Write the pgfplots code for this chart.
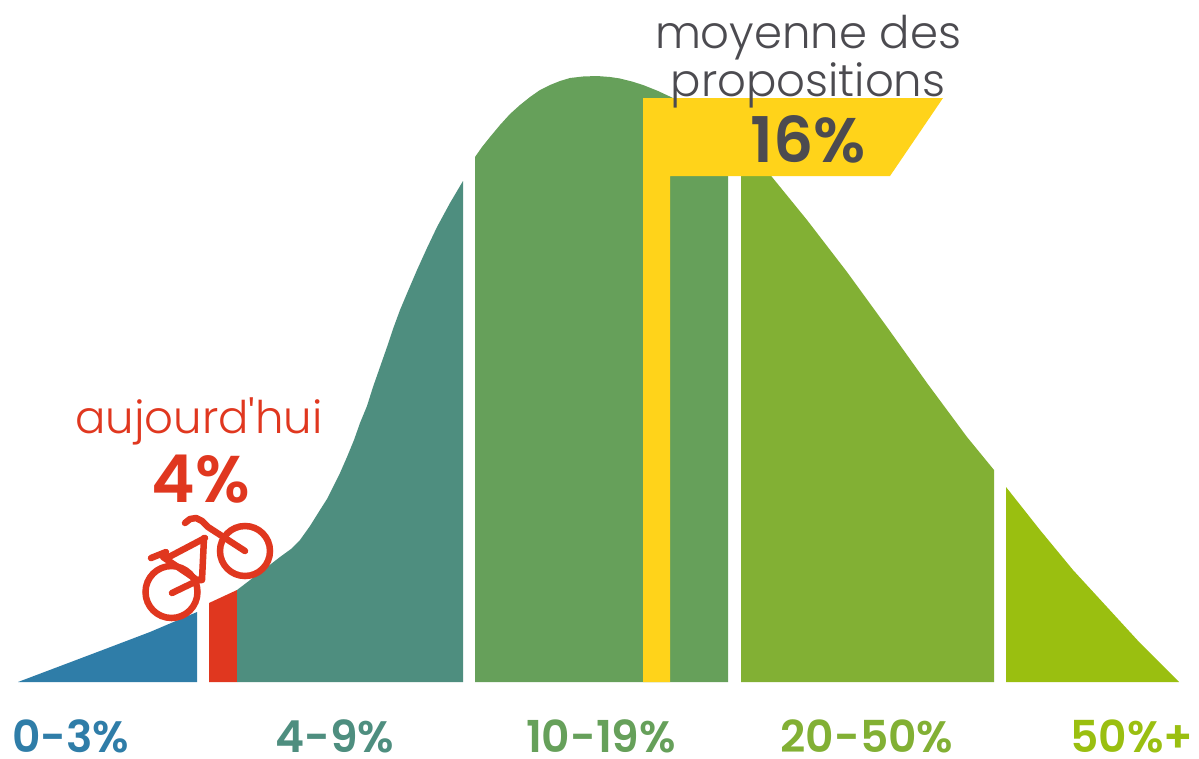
\documentclass[border=0pt]{standalone}
\usepackage{pgfplots}
\pgfplotsset{compat=1.18}
\usepackage{fontspec}
\setmainfont{Poppins}
\newfontfamily\lightf{Poppins Light}
\newfontfamily\semif{Poppins SemiBold}
\definecolor{cblue}{HTML}{2F7DA8}
\definecolor{cred}{HTML}{E0371F}
\definecolor{cteal}{HTML}{4E8E7F}
\definecolor{cgreen}{HTML}{66A05A}
\definecolor{colive}{HTML}{82B034}
\definecolor{clime}{HTML}{9ABF10}
\definecolor{cyel}{HTML}{FFD31A}
\definecolor{cdark}{HTML}{4C4B50}
\tikzset{bk/.style={cred,line width=6.5pt,line cap=round,line join=round},
  lb/.style={anchor=base,inner sep=0pt}}
\begin{document}
\begin{tikzpicture}[x=1pt,y=1pt]
\begin{axis}[hide axis,scale only axis,width=1199pt,height=758pt,xmin=0,xmax=1199,ymin=0,ymax=758,y dir=reverse,clip=false]
\fill[white] (axis cs:0,0) rectangle (axis cs:1199,758);
\addplot[fill=cblue,draw=none] coordinates {(18,682)(100,651)(150,632)(197,612)(197,682)} -- cycle;
\addplot[fill=cred,draw=none] coordinates {(209,603)(237,590)(237,682)(209,682)} -- cycle;
\addplot[fill=cteal,draw=none] coordinates {(237,590)(258,574)(280,557)(291,549)(300,540)(310,526)(320,510)(327,499)(333,487)(340,473)(347,457)(354,440)(360,423)(367,406)(373,387)(380,367)(387,347)(393,329)(400,310)(408,291)(417,270)(427,248)(437,227)(450,203)(463,181)(463,682)(237,682)} -- cycle;
\addplot[fill=cgreen,draw=none] coordinates {(475,157)(482,147)(490,137)(500,125)(510,114)(520,105)(530,97)(540,90)(550,85)(560,81)(570,78)(583,76.5)(597,76)(610,77)(620,78.5)(632,81.5)(643,85)(658,91)(673,98)(690,112)(710,130)(728,148)(728,682)(475,682)} -- cycle;
\addplot[fill=colive,draw=none] coordinates {(741,142)(772,177)(807,220)(847,272)(887,327)(927,383)(967,437)(994,470)(994,682)(741,682)} -- cycle;
\addplot[fill=clime,draw=none] coordinates {(1006,487)(1040,530)(1073,570)(1107,607)(1140,643)(1179,682)(1006,682)} -- cycle;
\addplot[fill=cyel,draw=none] coordinates {(643,98)(943,98)(890,176)(670,176)(670,682)(643,682)} -- cycle;
% bicycle
\draw[cred,line width=6.5pt] (axis cs:171.5,592) circle[radius=26pt];
\draw[cred,line width=6.5pt] (axis cs:245,551) circle[radius=25pt];
\addplot[bk] coordinates {(172,593)(201,579)};
\addplot[bk] coordinates {(245,551)(208,527)(202,521)(196,518)(190,519)(185,523)};
\addplot[bk] coordinates {(167,558)(205,538)};
\addplot[bk] coordinates {(204,538)(202,580)(197,580)(163,557)};
\addplot[bk] coordinates {(151,558)(166,552)};
% labels
\node[lb,text=cdark] at (axis cs:808,48) {\fontsize{45}{45}\selectfont\lightf moyenne des};
\node[lb,text=cdark] at (axis cs:808,96) {\fontsize{45}{45}\selectfont\lightf propositions};
\node[lb,text=cdark] at (axis cs:808,162) {\fontsize{63}{63}\selectfont\semif 16\%};
\node[lb,text=cred] at (axis cs:199,433) {\fontsize{45}{45}\selectfont\lightf aujourd'hui};
\node[lb,text=cred] at (axis cs:201,502) {\fontsize{66}{66}\selectfont\semif 4\%};
\node[lb,text=cblue] at (axis cs:71,752) {\fontsize{44}{44}\selectfont\semif 0-3\%};
\node[lb,text=cteal] at (axis cs:335,752) {\fontsize{44}{44}\selectfont\semif 4-9\%};
\node[lb,text=cgreen] at (axis cs:601,752) {\fontsize{44}{44}\selectfont\semif 10-19\%};
\node[lb,text=colive] at (axis cs:867,752) {\fontsize{44}{44}\selectfont\semif 20-50\%};
\node[lb,text=clime] at (axis cs:1132,752) {\fontsize{44}{44}\selectfont\semif 50\%+};
\end{axis}
\end{tikzpicture}
\end{document}
